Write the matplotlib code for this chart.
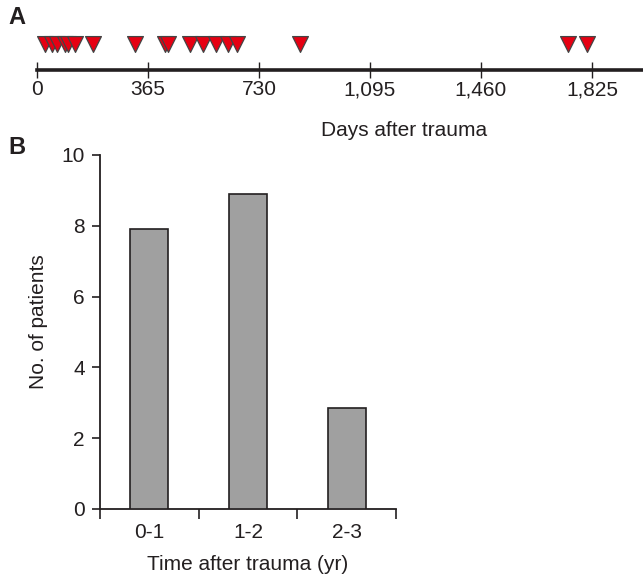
import matplotlib
matplotlib.use("Agg")
import matplotlib.pyplot as plt

plt.rcParams['font.family'] = ['Liberation Sans', 'DejaVu Sans']

# panel A: days after trauma for each patient
days = [26, 49, 66, 92, 102, 125, 184, 322, 421, 431, 503, 546, 589, 628, 658, 865, 1747, 1809]
day_ticks = [0, 365, 730, 1095, 1460, 1825]
day_labels = ["0", "365", "730", "1,095", "1,460", "1,825"]

# panel B: patients per year bin
bins = ["0-1", "1-2", "2-3"]
counts = [7.9, 8.9, 2.85]

ink = "#231f20"
fs = 15
fig = plt.figure(figsize=(6.43, 5.8), dpi=100)

# --- A ---
axA = fig.add_axes([37 / 643, 1 - 70 / 580, 606 / 643, 40 / 580])
axA.scatter(days, [0.65] * len(days), marker="v", s=130, color="#e60012",
            edgecolors="#444444", linewidths=0.9, zorder=3, clip_on=False)
axA.set_xlim(0, 606 / 0.3041)
axA.set_ylim(0, 1)
for s in ["top", "right", "left"]:
    axA.spines[s].set_visible(False)
axA.spines["bottom"].set_linewidth(2.6)
axA.spines["bottom"].set_color(ink)
axA.set_yticks([])
axA.set_xticks(day_ticks)
axA.set_xticklabels(day_labels, fontsize=fs, color=ink)
axA.tick_params(axis="x", direction="inout", length=11, width=1, colors=ink, pad=2)
fig.text(404 / 643, 1 - 130 / 580, "Days after trauma", fontsize=fs, color=ink,
         ha="center", va="center")

# --- B ---
axB = fig.add_axes([100 / 643, 1 - 509 / 580, 296 / 643, 354 / 580])
axB.bar(range(len(bins)), counts, width=0.385, color="#a0a0a0",
        edgecolor=ink, linewidth=1.2, zorder=3)
axB.set_xlim(-0.5, len(bins) - 0.5)
axB.set_ylim(0, 10)
for s in ["top", "right"]:
    axB.spines[s].set_visible(False)
for s in ["left", "bottom"]:
    axB.spines[s].set_linewidth(1.3)
    axB.spines[s].set_color(ink)
axB.set_yticks([0, 2, 4, 6, 8, 10])
axB.tick_params(axis="y", direction="out", length=6, width=1.2, colors=ink,
                labelsize=fs, pad=5)
axB.set_xticks([-0.5, 0.5, 1.5, 2.5])
axB.set_xticklabels([])
axB.set_xticks(range(len(bins)), minor=True)
axB.set_xticklabels(bins, minor=True, fontsize=fs, color=ink)
axB.tick_params(axis="x", which="major", direction="out", length=7, width=1.2, colors=ink)
axB.tick_params(axis="x", which="minor", length=0, pad=10)
fig.text(39 / 643, 1 - 322 / 580, "No. of patients", fontsize=fs, color=ink,
         ha="center", va="center", rotation=90)
fig.text(248 / 643, 1 - 564 / 580, "Time after trauma (yr)", fontsize=fs, color=ink,
         ha="center", va="center")

fig.text(17 / 643, 1 - 18 / 580, "A", fontsize=17, fontweight="bold", color=ink,
         ha="center", va="center")
fig.text(17 / 643, 1 - 147 / 580, "B", fontsize=17, fontweight="bold", color=ink,
         ha="center", va="center")

fig.savefig("out.png", dpi=100)
